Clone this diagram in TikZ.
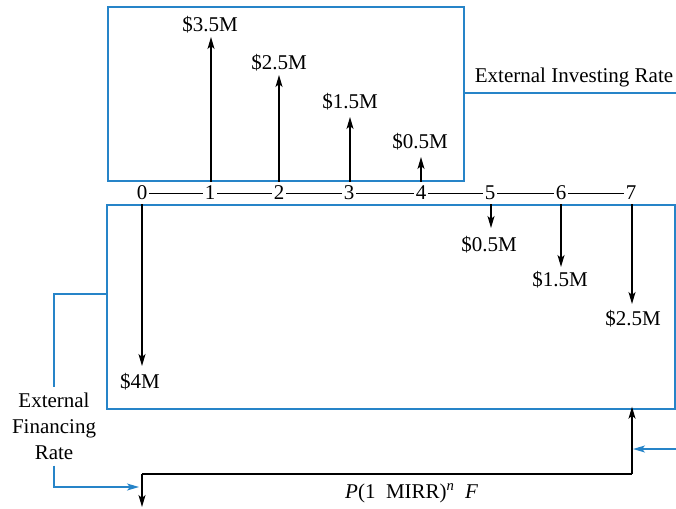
\documentclass[tikz,border=0pt]{standalone}
\usepackage{fontspec}
\setmainfont{Liberation Serif}
\usetikzlibrary{arrows.meta}
\definecolor{rateblue}{RGB}{38,132,200}
\tikzset{
  lbl/.style={inner sep=0pt, font=\fontsize{21}{26}\selectfont},
  flow/.style={line width=1.3pt, black, -{Stealth[length=12pt,width=7pt,inset=3pt]}},
  bluearr/.style={line width=1.4pt, rateblue, -{Stealth[length=12pt,width=7pt,inset=3pt]}},
  blueline/.style={line width=1.4pt, rateblue},
  box/.style={draw=rateblue, line width=1.4pt, inner sep=0pt},
  axis/.style={line width=1pt, black}
}
\begin{document}
\begin{tikzpicture}[x=1pt,y=-1pt]
\useasboundingbox (0,0) rectangle (676,508);

% investing and financing boxes
\node[box, minimum width=356pt, minimum height=174pt] (up) at (286,94) {};
\node[box, minimum width=568pt, minimum height=204pt] (lo) at (391,307) {};

% time axis
\foreach \i/\x in {0/142,1/210,2/279,3/349,4/421,5/490,6/561,7/631}
  \node[lbl] (t\i) at (\x,193) {\i};
\foreach \i [evaluate=\i as \j using int(\i+1)] in {0,...,6}
  \draw[axis] ([xshift=2pt]t\i.east) -- ([xshift=-2pt]t\j.west);

% positive cash flows
\node[lbl] (p1) at (210,25) {\$3.5M};
\node[lbl] (p2) at (279,63) {\$2.5M};
\node[lbl] (p3) at (350,102) {\$1.5M};
\node[lbl] (p4) at (420,142) {\$0.5M};
\coordinate (a1) at (211,37);
\coordinate (a2) at (279,75);
\coordinate (a3) at (350,117);
\coordinate (a4) at (421,157);
\draw[flow] (up.south -| a1) -- (a1);
\draw[flow] (up.south -| a2) -- (a2);
\draw[flow] (up.south -| a3) -- (a3);
\draw[flow] (up.south -| a4) -- (a4);

% negative cash flows
\node[lbl] (n0) at (140,382) {\$4M};
\node[lbl] (n5) at (489,245) {\$0.5M};
\node[lbl] (n6) at (560,280) {\$1.5M};
\node[lbl] (n7) at (633,319) {\$2.5M};
\coordinate (b0) at (142,366);
\coordinate (b5) at (491,228);
\coordinate (b6) at (561,267);
\coordinate (b7) at (632,304);
\draw[flow] (lo.north -| b0) -- (b0);
\draw[flow] (lo.north -| b5) -- (b5);
\draw[flow] (lo.north -| b6) -- (b6);
\draw[flow] (lo.north -| b7) -- (b7);

% external investing rate
\node[lbl] (eir) at (574,77) {External Investing Rate};
\coordinate (eirend) at (676,93);
\draw[blueline] (up.east |- eirend) -- (eirend);

% external financing rate
\node[lbl, align=center] (efr) at (54,426) {External\\Financing\\Rate};
\coordinate (efrtop) at (54,294);
\draw[blueline] (lo.west |- efrtop) -- (efrtop) -- ([yshift=5pt]efr.north);
\coordinate (pin) at (142,474);
\coordinate (pout) at (142,507);
\coordinate (fin) at (632,474);
\draw[bluearr] ([yshift=-6pt]efr.south) |- ([xshift=-3pt]pin |- 0,487);

% equivalence line
\draw[flow] (pin) -- (pout);
\draw[line width=1.3pt] (pin) -- (fin);
\draw[flow] (fin) -- ([yshift=3pt]lo.south -| fin);
\coordinate (rin) at (676,449);
\draw[bluearr] (rin) -- ([xshift=1pt]fin |- rin);

\node[lbl, anchor=west] (eq) at (345,493) {\textit{P}(1\ \ MIRR)\textsuperscript{\textit{n}}\ \ \textit{F}};
\end{tikzpicture}
\end{document}
